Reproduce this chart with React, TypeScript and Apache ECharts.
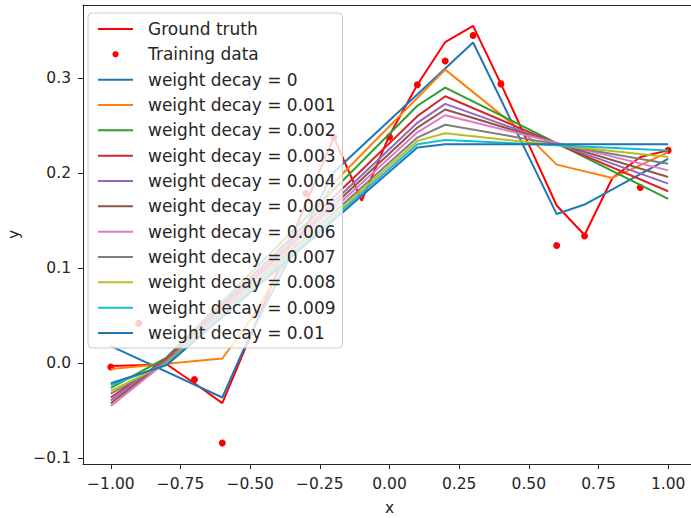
import React, { useEffect, useRef } from "react";
import * as echarts from "echarts";

// Evaluation grid of the ground-truth curve
const gridX = [-1, -0.9, -0.8, -0.7, -0.6, -0.5, -0.4, -0.3, -0.2, -0.1, 0, 0.1, 0.2, 0.3, 0.4, 0.5, 0.6, 0.7, 0.8, 0.9, 1.0];
const groundTruth = [-0.003, -0.002, -0.001, -0.021, -0.042, 0.028, 0.098, 0.168, 0.238, 0.171, 0.24, 0.293, 0.338, 0.355, 0.294, 0.23, 0.166, 0.135, 0.195, 0.217, 0.224];

// Noisy training samples
const trainX = [-1, -0.9, -0.7, -0.6, -0.3, -0.2, 0, 0.1, 0.2, 0.3, 0.4, 0.6, 0.7, 0.9, 1.0];
const trainY = [-0.004, 0.042, -0.017, -0.084, 0.179, 0.238, 0.238, 0.293, 0.318, 0.345, 0.294, 0.124, 0.134, 0.185, 0.224];

// Fitted curves (breakpoints of each piecewise-linear fit)
const wd0X = [-1, -0.6, -0.5, -0.2, 0.3, 0.6, 0.7, 1.0];
const wd0Y = [0.018, -0.036, 0.03, 0.201, 0.3375, 0.157, 0.167, 0.215];
const wd001X = [-1, -0.6, -0.5, -0.2, 0.2, 0.5, 0.6, 0.8, 1.0];
const wd001Y = [-0.006, 0.005, 0.045, 0.19, 0.309, 0.238, 0.209, 0.195, 0.222];
const regX = [-1, -0.8, 0.1, 0.2, 1.0];
const wd002Y = [-0.026, 0.006, 0.271, 0.29, 0.173];
const wd003Y = [-0.036, 0.005, 0.26, 0.281, 0.181];
const wd004Y = [-0.039, 0.004, 0.253, 0.273, 0.189];
const wd005Y = [-0.042, 0.003, 0.248, 0.267, 0.196];
const wd006Y = [-0.045, 0.002, 0.243, 0.261, 0.203];
const wd007Y = [-0.032, 0.001, 0.2375, 0.251, 0.21];
const wd008Y = [-0.029, 0.0, 0.234, 0.242, 0.217];
const wd009Y = [-0.023, -0.001, 0.2305, 0.235, 0.224];
const wd010Y = [-0.021, -0.002, 0.227, 0.2305, 0.2305];

const decayLabels = ["0", "0.001", "0.002", "0.003", "0.004", "0.005", "0.006", "0.007", "0.008", "0.009", "0.01"];
const decayColors = ["#1f77b4", "#ff7f0e", "#2ca02c", "#d62728", "#9467bd", "#8c564b", "#e377c2", "#7f7f7f", "#bcbd22", "#17becf", "#1f77b4"];
const fitXs = [wd0X, wd001X, regX, regX, regX, regX, regX, regX, regX, regX, regX];
const fitYs = [wd0Y, wd001Y, wd002Y, wd003Y, wd004Y, wd005Y, wd006Y, wd007Y, wd008Y, wd009Y, wd010Y];

const xTicks = [-1, -0.75, -0.5, -0.25, 0, 0.25, 0.5, 0.75, 1];
const yTicks = [-0.1, 0, 0.1, 0.2, 0.3];

const FONT = "DejaVu Sans";
const INK = "#262626";

const pairs = (xs: number[], ys: number[]) => xs.map((x, i) => [x, ys[i]]);
const fmt = (v: number, d: number) => (v < 0 ? "\u2212" : "") + Math.abs(v).toFixed(d);

// Legend handles inside a 35x14 slot: a short stroke for curves, a small dot for samples
const LINE_ICON = "path://M0,0M35,14M0,6h35v2h-35Z";
const DOT_ICON = "path://M0,0M35,0M35,14M0,14M14.5,7a3,3 0 1,0 6,0a3,3 0 1,0 -6,0Z";

export default function App() {
  const ref = useRef<HTMLDivElement>(null);

  useEffect(() => {
    if (!ref.current) return;
    const chart = echarts.init(ref.current, undefined, { renderer: "svg" });

    const fitSeries = decayLabels.map((lab, i) => ({
      name: `weight decay = ${lab}`,
      type: "line",
      data: pairs(fitXs[i], fitYs[i]),
      symbol: "none",
      lineStyle: { width: 2, color: decayColors[i] },
      itemStyle: { color: decayColors[i] },
    }));

    const names = ["Ground truth", "Training data", ...fitSeries.map((s) => s.name)];
    const iconColors: Record<string, string> = { "Ground truth": "#ff0000", "Training data": "#ff0000" };
    fitSeries.forEach((s, i) => (iconColors[s.name] = decayColors[i]));

    const xBase = { type: "value", min: -1.1, max: 1.1, splitLine: { show: false } };

    chart.setOption({
      animation: false,
      backgroundColor: "#ffffff",
      grid: {
        left: 83,
        top: 5,
        width: 613,
        height: 459,
        outerBoundsMode: "none",
        containLabel: false,
        show: false,
      },
      xAxis: [
        {
          ...xBase,
          name: "x",
          nameLocation: "middle",
          nameGap: 36,
          nameTextStyle: { fontFamily: FONT, fontSize: 15.5, color: INK },
          axisLine: { show: true, onZero: false, lineStyle: { color: INK, width: 1 } },
          axisTick: { show: true, length: 5, lineStyle: { color: INK }, customValues: xTicks },
          axisLabel: {
            fontFamily: FONT,
            fontSize: 15.5,
            color: INK,
            margin: 12,
            customValues: xTicks,
            formatter: (v: number) => fmt(v, 2),
          },
        },
        {
          // top spine
          ...xBase,
          position: "top",
          axisLine: { show: true, onZero: false, lineStyle: { color: INK, width: 1 } },
          axisTick: { show: false },
          axisLabel: { show: false },
        },
      ],
      yAxis: {
        type: "value",
        min: -0.106,
        max: 0.377,
        name: "y",
        nameLocation: "middle",
        nameGap: 60,
        nameRotate: 90,
        nameTextStyle: { fontFamily: FONT, fontSize: 15.5, color: INK },
        axisLine: { show: true, onZero: false, lineStyle: { color: INK, width: 1 } },
        axisTick: { show: true, length: 5, lineStyle: { color: INK }, customValues: yTicks },
        axisLabel: {
          fontFamily: FONT,
          fontSize: 15.5,
          color: INK,
          margin: 12,
          customValues: yTicks,
          formatter: (v: number) => fmt(v, 1),
        },
        splitLine: { show: false },
      },
      legend: {
        orient: "vertical",
        left: 88,
        top: 13,
        itemWidth: 35,
        itemHeight: 14,
        itemGap: 8.33,
        padding: [7.5, 7, 6.5, 10],
        backgroundColor: "rgba(255,255,255,0.8)",
        borderColor: "#cccccc",
        borderWidth: 1,
        borderRadius: 4,
        selectedMode: false,
        textStyle: {
          fontFamily: FONT,
          fontSize: 17,
          lineHeight: 17,
          color: INK,
          padding: [0, 0, 0, 10],
        },
        data: names.map((n) => ({
          name: n,
          icon: n === "Training data" ? DOT_ICON : LINE_ICON,
          itemStyle: { color: iconColors[n], borderWidth: 0 },
        })),
      },
      series: [
        {
          name: "Ground truth",
          type: "line",
          data: pairs(gridX, groundTruth),
          symbol: "none",
          lineStyle: { width: 2, color: "#ff0000" },
          itemStyle: { color: "#ff0000" },
        },
        {
          name: "Training data",
          type: "scatter",
          data: pairs(trainX, trainY),
          symbol: "circle",
          symbolSize: 7,
          itemStyle: { color: "#ff0000", opacity: 1 },
        },
        ...fitSeries,
      ],
    });

    return () => chart.dispose();
  }, []);

  // the plotting area runs slightly past the right edge of the window
  return (
    <div
      ref={ref}
      style={{ position: "fixed", left: 0, top: 0, width: 720, height: 518, overflow: "hidden" }}
    />
  );
}
